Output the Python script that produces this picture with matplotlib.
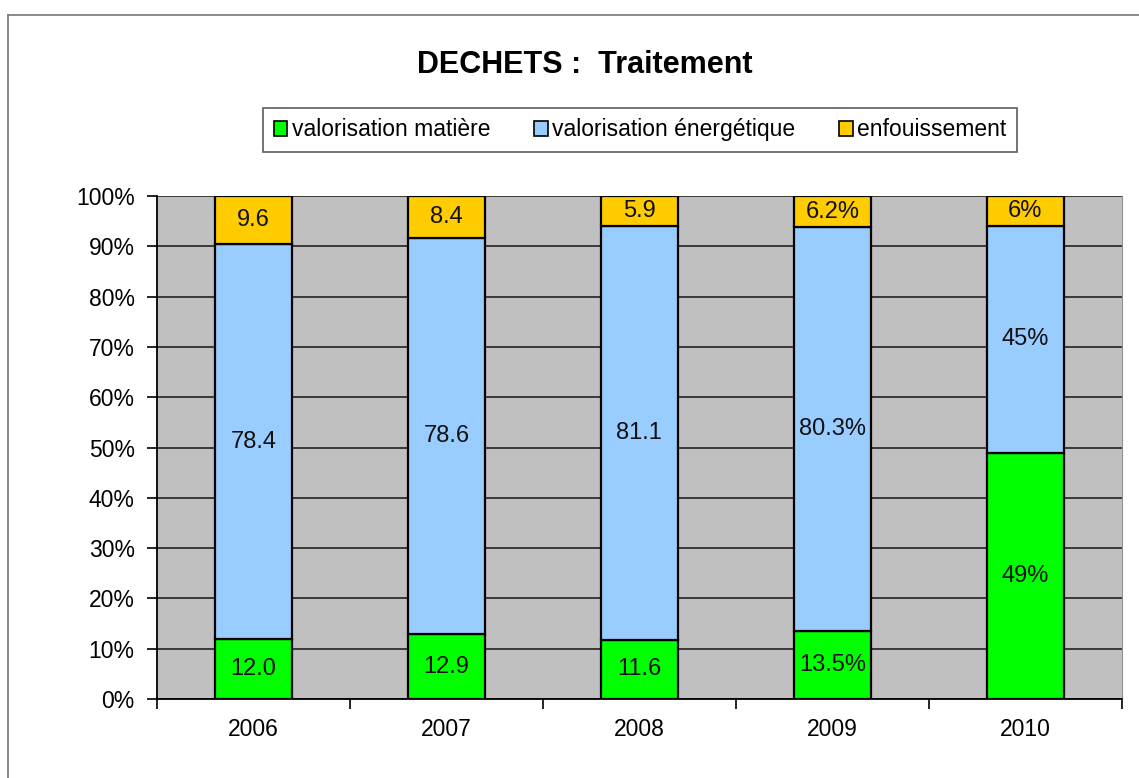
import matplotlib.pyplot as plt
import numpy as np
from matplotlib.patches import Patch
from matplotlib.lines import Line2D

plt.rcParams['font.family'] = ['Liberation Sans', 'DejaVu Sans']

# data
years = ['2006', '2007', '2008', '2009', '2010']
matiere = [12.0, 12.9, 11.6, 13.5, 49]
energetique = [78.4, 78.6, 81.1, 80.3, 45]
enfouissement = [9.6, 8.4, 5.9, 6.2, 6]
lbl_matiere = ['12.0', '12.9', '11.6', '13.5%', '49%']
lbl_energetique = ['78.4', '78.6', '81.1', '80.3%', '45%']
lbl_enfouissement = ['9.6', '8.4', '5.9', '6.2%', '6%']
series_names = ['valorisation matière', 'valorisation énergétique', 'enfouissement']
colors = ['#00FF00', '#99CCFF', '#FFCC00']

# 100% stacked: normalise each year
data = np.array([matiere, energetique, enfouissement], dtype=float)
share = data / data.sum(axis=0) * 100
labels = [lbl_matiere, lbl_energetique, lbl_enfouissement]

fig = plt.figure(figsize=(11.39, 7.78), dpi=100)
ax = fig.add_axes([0.1378, 0.1015, 0.985 - 0.1378, 0.748 - 0.1015])
ax.set_facecolor('#C0C0C0')

x = np.arange(len(years))
bottom = np.zeros(len(years))
for i in range(3):
    ax.bar(x, share[i], 0.40, bottom=bottom, color=colors[i],
           edgecolor='black', linewidth=1.6, zorder=3)
    for j in range(len(years)):
        ax.text(x[j], bottom[j] + share[i][j] / 2, labels[i][j],
                ha='center', va='center', fontsize=17, color='#111111', zorder=4)
    bottom += share[i]

ax.set_xlim(-0.5, len(years) - 0.5)
ax.set_ylim(0, 100)
ax.set_yticks(np.arange(0, 101, 10))
ax.set_yticklabels([f'{v}%' for v in range(0, 101, 10)], fontsize=16.5)
ax.yaxis.grid(True, color='#222222', linewidth=1.2, zorder=1)
ax.set_axisbelow(True)

ax.set_xticks(np.arange(-0.5, len(years), 1.0))
ax.set_xticklabels([])
ax.set_xticks(x, minor=True)
ax.set_xticklabels(years, minor=True, fontsize=16.5)
ax.tick_params(axis='x', which='major', length=7, width=1.2, direction='out')
ax.tick_params(axis='x', which='minor', length=0, pad=14)
ax.tick_params(axis='y', length=7, width=1.2, direction='out', pad=9)

ax.spines['top'].set_visible(False)
ax.spines['right'].set_color('#909090')
ax.spines['left'].set_linewidth(1.3)
ax.spines['bottom'].set_linewidth(1.3)

fig.text(0.513, 0.917, 'DECHETS :  Traitement', ha='center', va='center',
         fontsize=22, fontweight='bold')

handles = [Patch(facecolor=c, edgecolor='black', linewidth=1.2) for c in colors]
leg = fig.legend(handles, series_names, loc='center', bbox_to_anchor=(0.562, 0.833),
                 ncol=3, fontsize=16.5, frameon=True, fancybox=False, edgecolor='#333333',
                 handlelength=0.6, handleheight=0.6, handletextpad=0.2,
                 columnspacing=1.9, borderpad=0.45, borderaxespad=0)
leg.get_frame().set_linewidth(1.2)

# outer frame of the picture
fig.add_artist(Line2D([0.007, 1.0], [1 - 15 / 778, 1 - 15 / 778], color='#777777', linewidth=1.2))
fig.add_artist(Line2D([0.007, 0.007], [0.0, 1 - 15 / 778], color='#777777', linewidth=1.2))

fig.savefig('out.png', dpi=100)
